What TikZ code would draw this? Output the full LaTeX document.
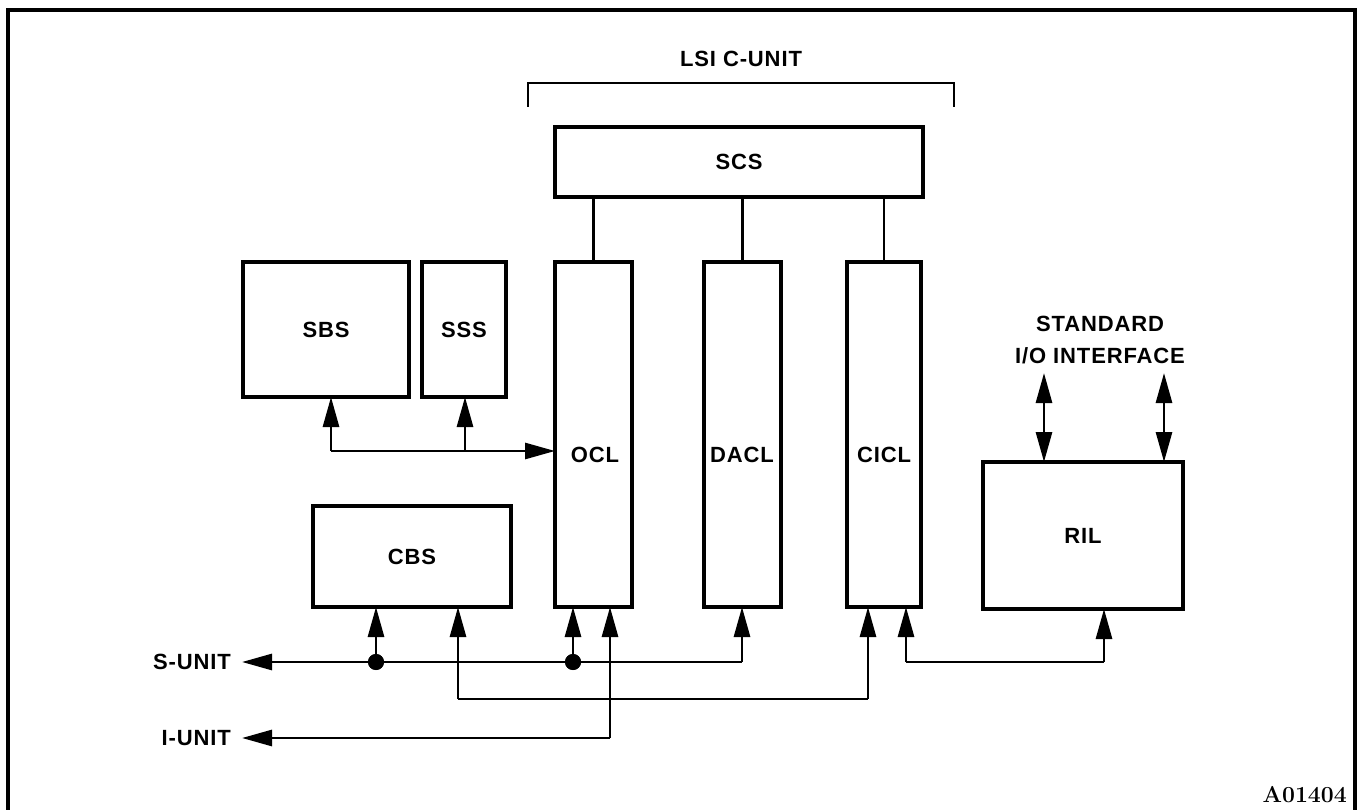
\documentclass[tikz,border=0pt]{standalone}
\usepackage{fontspec}
\usetikzlibrary{arrows.meta}
\newfontfamily\lblfont{Liberation Sans}[LetterSpace=4]
\begin{document}
\begin{tikzpicture}[x=1pt,y=-1pt,
  box/.style={draw,line width=3.2pt,anchor=north west,inner sep=0pt,outer sep=0pt},
  txt/.style={font=\lblfont\bfseries\fontsize{22}{25}\selectfont,inner sep=0pt},
  wire/.style={line width=2.8pt},
  arr/.style={wire,-{Triangle[length=30pt,width=16pt]}},
  darr/.style={wire,{Triangle[length=30pt,width=16pt]}-{Triangle[length=30pt,width=16pt]}},
  dot/.style={circle,fill=black,inner sep=0pt,minimum size=16pt}]
\useasboundingbox (0,0) rectangle (1358,810);
% frame
\draw[line width=3.2pt] (8,812) -- (8,10) -- (1355,10) -- (1355,812);
% bracket
\node[txt] (lsi) at (741,59) {LSI C-UNIT};
\draw[line width=2.8pt] (528,107) -- (528,83) -- (954,83) -- (954,107);
% boxes
\node[box,minimum width=368pt,minimum height=70pt] (scs) at (555,127) {};
\node[txt] (scs-t) at (scs.center) {SCS};
\node[box,minimum width=166pt,minimum height=135pt] (sbs) at (243,262) {};
\node[txt] (sbs-t) at (sbs.center) {SBS};
\node[box,minimum width=84pt,minimum height=135pt] (sss) at (422,262) {};
\node[txt] (sss-t) at (sss.center) {SSS};
\node[box,minimum width=77pt,minimum height=345pt] (ocl) at (555,262) {};
\node[txt] (ocl-t) at (595,455) {OCL};
\node[box,minimum width=77pt,minimum height=345pt] (dacl) at (704,262) {};
\node[txt] (dacl-t) at (742,455) {DACL};
\node[box,minimum width=74pt,minimum height=345pt] (cicl) at (847,262) {};
\node[txt] (cicl-t) at (884,455) {CICL};
\node[box,minimum width=198pt,minimum height=101pt] (cbs) at (313,506) {};
\node[txt] (cbs-t) at (cbs.center) {CBS};
\node[box,minimum width=200pt,minimum height=147pt] (ril) at (983,462) {};
\node[txt] (ril-t) at (1083,536) {RIL};
\node[txt] (std) at (1100,324) {STANDARD};
\node[txt] (io) at (1100,356) {I/O INTERFACE};
\node[txt,anchor=east] (sunit) at (231,662) {S-UNIT};
\node[txt,anchor=east] (iunit) at (231,738) {I-UNIT};
\node[font=\bfseries\fontsize{23}{25}\selectfont,inner sep=0pt,anchor=south east] (code) at (1347,803) {A01404};
% SCS stubs
\draw[line width=2.4pt] (scs.south -| ocl.center) -- (ocl.north);
\draw[line width=2.4pt] (scs.south -| dacl.center) -- (dacl.north);
\draw[line width=2.4pt] (scs.south -| cicl.center) -- (cicl.north);
% standard I/O arrows
\coordinate (io1) at (1044,373);
\coordinate (io2) at (1164,373);
\draw[darr] (io1) -- (io1 |- ril.north);
\draw[darr] (io2) -- (io2 |- ril.north);
% SBS/SSS/OCL
\coordinate (sb) at (331,451);
\coordinate (ss) at (465,451);
\draw[arr] (sb) -- (sb |- sbs.south);
\draw[wire] (sb) -- (ss);
\draw[arr] (ss) -- (ocl.west |- ss);
\draw[arr] (ss) -- (ss |- sss.south);
% S-UNIT bus
\coordinate (sd) at (742,662);
\coordinate (su) at (242,662);
\node[dot] (d1) at (376,662) {};
\node[dot] (d2) at (573,662) {};
\draw[arr] (sd) -- (su);
\draw[arr] (sd) -- (sd |- dacl.south);
\draw[arr] (d1.center) -- (d1 |- cbs.south);
\draw[arr] (d2.center) -- (d2 |- ocl.south);
\node[dot] at (d1) {};
\node[dot] at (d2) {};
% CBS - CICL
\coordinate (c1) at (458,699);
\coordinate (c2) at (868,699);
\draw[wire] (c1) -- (c2);
\draw[arr] (c1) -- (c1 |- cbs.south);
\draw[arr] (c2) -- (c2 |- cicl.south);
% I-UNIT
\coordinate (i1) at (610,738);
\coordinate (iu) at (242,738);
\draw[arr] (i1) -- (iu);
\draw[arr] (i1) -- (i1 |- ocl.south);
% CICL - RIL
\coordinate (r1) at (906,662);
\coordinate (r2) at (1104,662);
\draw[wire] (r1) -- (r2);
\draw[arr] (r1) -- (r1 |- cicl.south);
\draw[arr] (r2) -- (r2 |- ril.south);
\end{tikzpicture}
\end{document}
